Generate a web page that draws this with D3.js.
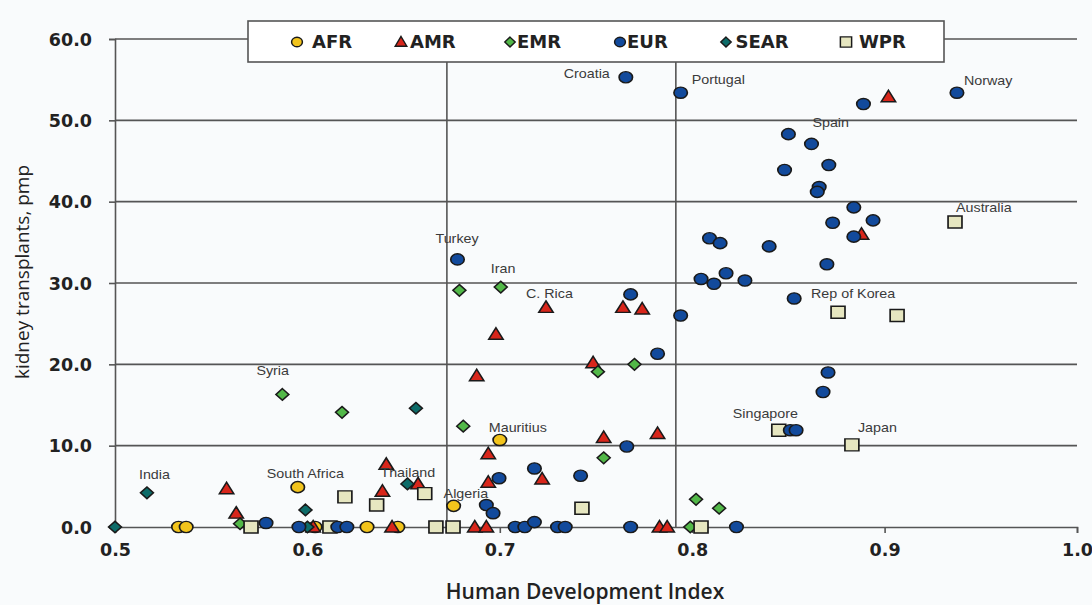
<!DOCTYPE html>
<html>
<head>
<meta charset="utf-8">
<script src="https://cdn.jsdelivr.net/npm/d3@7"></script>
<style>
  html, body { margin: 0; padding: 0; background: #f9fbfc; }
  svg { display: block; }
</style>
</head>
<body>
<svg id="chart" width="1092" height="605"></svg>
<script>
// Kidney transplants per million population vs Human Development Index, by WHO region
const regions = ["AFR", "AMR", "EMR", "EUR", "SEAR", "WPR"];

// [HDI, kidney transplants pmp]
const afr = [[0.533,0],[0.537,0],[0.595,4.9],[0.604,0],[0.631,0],[0.647,0],[0.676,2.6],[0.700,10.7]];
const amr = [[0.558,4.7],[0.563,1.7],[0.603,0],[0.641,7.7],[0.639,4.4],[0.6575,5.3],[0.644,0],[0.687,0],[0.693,0],
             [0.694,9.0],[0.694,5.5],[0.722,5.9],[0.754,11.0],[0.782,11.5],[0.783,0],[0.787,0],[0.698,23.7],
             [0.724,27.0],[0.764,27.0],[0.774,26.8],[0.7485,20.2],[0.688,18.6],[0.902,52.9],[0.888,36.0]];
const emr = [[0.565,0.4],[0.587,16.3],[0.618,14.1],[0.681,12.4],[0.754,8.5],[0.679,29.1],[0.7005,29.5],
             [0.751,19.1],[0.770,20.0],[0.802,3.4],[0.814,2.3],[0.799,0]];
const eur = [[0.5785,0.5],[0.5956,0],[0.6158,0],[0.6205,0],[0.708,0],[0.713,0],[0.718,0.6],[0.730,0],[0.734,0],
             [0.768,0],[0.823,0],[0.693,2.7],[0.6965,1.7],[0.6996,6.0],[0.718,7.2],[0.742,6.3],[0.766,9.9],
             [0.851,11.9],[0.854,11.9],[0.868,16.6],[0.8706,19.0],[0.678,32.9],[0.768,28.6],[0.794,26.0],
             [0.782,21.3],[0.7655,55.3],[0.794,53.4],[0.889,52.0],[0.850,48.3],[0.862,47.1],[0.848,43.9],
             [0.871,44.5],[0.866,41.8],[0.865,41.2],[0.884,39.3],[0.873,37.4],[0.894,37.7],[0.884,35.7],
             [0.809,35.5],[0.8145,34.9],[0.840,34.5],[0.870,32.3],[0.8046,30.5],[0.8176,31.2],[0.8113,29.9],
             [0.8274,30.3],[0.853,28.1],[0.9376,53.4]];
const sear = [[0.5,0],[0.5166,4.2],[0.599,2.1],[0.600,0],[0.652,5.3],[0.6564,14.6]];
const wpr = [[0.5707,0],[0.6117,0],[0.6195,3.7],[0.636,2.7],[0.661,4.1],[0.6668,0],[0.6757,0],[0.7427,2.3],
             [0.8046,0],[0.845,11.9],[0.883,10.1],[0.8758,26.4],[0.9065,26.0],[0.9366,37.5]];

// Named countries: [name, HDI, kidney transplants pmp]
const countries = [
  ["Croatia",0.7655,55.3],["Portugal",0.794,53.4],["Norway",0.9376,53.4],["Spain",0.850,48.3],
  ["Australia",0.9366,37.5],["Rep of Korea",0.8758,26.4],["Turkey",0.678,32.9],["Iran",0.7005,29.5],
  ["C. Rica",0.724,27.0],["Syria",0.587,16.3],["India",0.5166,4.2],["South Africa",0.595,4.9],
  ["Thailand",0.652,5.3],["Algeria",0.676,2.6],["Mauritius",0.700,10.7],["Singapore",0.845,11.9],
  ["Japan",0.883,10.1]
];

const xTicks = [0.5, 0.6, 0.7, 0.8, 0.9, 1.0];
const yTicks = [0, 10, 20, 30, 40, 50, 60];
const hdiBands = [0.6725, 0.7915];

// ---- layout & styling ----
const M = { left: 115, right: 1077, top: 39, bottom: 527 };
const SX = 1.2;  // horizontal stretch applied to glyphs and markers
const regionStyle = {
  AFR:  { shape: "circle",   fill: "#f2c41c", data: afr },
  AMR:  { shape: "triangle", fill: "#d8261b", data: amr },
  EMR:  { shape: "diamond",  fill: "#52b848", data: emr },
  EUR:  { shape: "circle",   fill: "#124a9c", data: eur },
  SEAR: { shape: "diamond",  fill: "#0d6c69", data: sear },
  WPR:  { shape: "square",   fill: "#e6e6c0", data: wpr }
};
const drawOrder = ["AFR", "AMR", "EMR", "SEAR", "WPR", "EUR"];
const labelOffset = {
  "Croatia": [-16, -4, "end"], "Portugal": [11, -13, "start"], "Norway": [7, -12, "start"],
  "Spain": [24, -12, "start"], "Australia": [1, -15, "start"], "Rep of Korea": [-27, -19, "start"],
  "Turkey": [-22, -21, "start"], "Iran": [-10, -19, "start"], "C. Rica": [-20, -14, "start"],
  "Syria": [-26, -24, "start"], "India": [-8, -18, "start"], "South Africa": [-31, -14, "start"],
  "Thailand": [-27, -11, "start"], "Algeria": [-10, -12, "start"], "Mauritius": [-11, -13, "start"],
  "Singapore": [-46, -17, "start"], "Japan": [6, -17, "start"]
};

const svg = d3.select("#chart");
const x = d3.scaleLinear().domain([0.5, 1.0]).range([M.left, M.right]);
const y = d3.scaleLinear().domain([0, 60]).range([M.bottom, M.top]);

function markerPath(shape, k) {
  k = k || 1;
  if (shape === "triangle") return `M0,${-6.5*k}L${6*k},${5*k}L${-6*k},${5*k}Z`;
  if (shape === "diamond") return `M0,${-5.8*k}L${5.4*k},0L0,${5.8*k}L${-5.4*k},0Z`;
  if (shape === "square") return `M${-5.8*k},${-6*k}H${5.8*k}V${6*k}H${-5.8*k}Z`;
  return d3.arc()({ innerRadius: 0, outerRadius: 5.6*k, startAngle: 0, endAngle: 2*Math.PI });
}

const gridColor = "#555";

// horizontal gridlines
svg.append("g").selectAll("line").data(yTicks.filter(d => d > 0)).join("line")
  .attr("x1", M.left).attr("x2", M.right)
  .attr("y1", d => y(d)).attr("y2", d => y(d))
  .attr("stroke", gridColor).attr("stroke-width", 1.6);

// HDI band separators
svg.append("g").selectAll("line").data(hdiBands).join("line")
  .attr("x1", d => x(d)).attr("x2", d => x(d))
  .attr("y1", y(60)).attr("y2", y(0))
  .attr("stroke", gridColor).attr("stroke-width", 1.6);

// axes
const yAxis = svg.append("g").attr("transform", `translate(${M.left},0)`)
  .call(d3.axisLeft(y).tickValues(yTicks).tickSize(6).tickFormat(d3.format(".1f")));
const xAxis = svg.append("g").attr("transform", `translate(0,${M.bottom})`)
  .call(d3.axisBottom(x).tickValues(xTicks).tickSize(6).tickFormat(d3.format(".1f")));
[yAxis, xAxis].forEach(a => {
  a.select(".domain").attr("stroke", gridColor).attr("stroke-width", 1.6);
  a.selectAll(".tick line").attr("stroke", gridColor).attr("stroke-width", 1.6);
  a.selectAll(".tick text")
    .attr("fill", "#222")
    .style("font-family", "'DejaVu Sans', sans-serif")
    .style("font-weight", "bold")
    .style("font-size", "17.5px");
});
yAxis.selectAll(".tick text").attr("x", -23).attr("dy", "0.35em");
xAxis.selectAll(".tick text").attr("y", 17).attr("dy", "0.71em");

// axis titles
svg.append("text")
  .attr("transform", "translate(29,272) rotate(-90)")
  .attr("text-anchor", "middle")
  .attr("fill", "#222")
  .style("font-family", "'Open Sans', sans-serif")
  .style("font-size", "19px")
  .text("kidney transplants, pmp");

svg.append("text")
  .attr("x", 585).attr("y", 599)
  .attr("text-anchor", "middle")
  .attr("fill", "#222")
  .style("font-family", "'Open Sans', sans-serif")
  .style("font-weight", 600)
  .style("font-size", "21px")
  .text("Human Development Index");

// points
const pts = svg.append("g");
drawOrder.forEach(r => {
  const st = regionStyle[r];
  pts.append("g").selectAll("path").data(st.data).join("path")
    .attr("d", markerPath(st.shape))
    .attr("transform", d => `translate(${x(d[0])},${y(d[1])}) scale(${SX},1)`)
    .attr("fill", st.fill)
    .attr("stroke", "#1a1a1a")
    .attr("stroke-width", 1.4);
});

// country labels
svg.append("g").selectAll("text").data(countries).join("text")
  .attr("transform", d => {
    const o = labelOffset[d[0]];
    return `translate(${x(d[1]) + o[0]},${y(d[2]) + o[1]}) scale(1.1,1)`;
  })
  .attr("dy", "0.35em")
  .attr("text-anchor", d => labelOffset[d[0]][2])
  .attr("fill", "#3a3a3a")
  .style("font-family", "'Liberation Sans', Arial, sans-serif")
  .style("font-size", "13px")
  .text(d => d[0]);

// legend
const legend = svg.append("g");
legend.append("rect")
  .attr("x", 248).attr("y", 21).attr("width", 696).attr("height", 41)
  .attr("fill", "#fff").attr("stroke", "#555").attr("stroke-width", 1.6);
const legendX = [297, 401, 510, 620, 726, 846];
const legendTextGap = [15, 9, 7, 7, 9.5, 13];
regions.forEach((r, i) => {
  const st = regionStyle[r];
  const g = legend.append("g").attr("transform", `translate(${legendX[i]},42)`);
  g.append("path")
    .attr("d", markerPath(st.shape, 0.85))
    .attr("transform", `scale(${SX * 0.95},1)`)
    .attr("fill", st.fill).attr("stroke", "#1a1a1a").attr("stroke-width", 1.3);
  g.append("text")
    .attr("x", legendTextGap[i]).attr("dy", "0.36em")
    .attr("fill", "#222")
    .style("font-family", "'DejaVu Sans', sans-serif")
    .style("font-weight", "bold")
    .style("font-size", "18px")
    .text(r);
});
</script>
</body>
</html>
